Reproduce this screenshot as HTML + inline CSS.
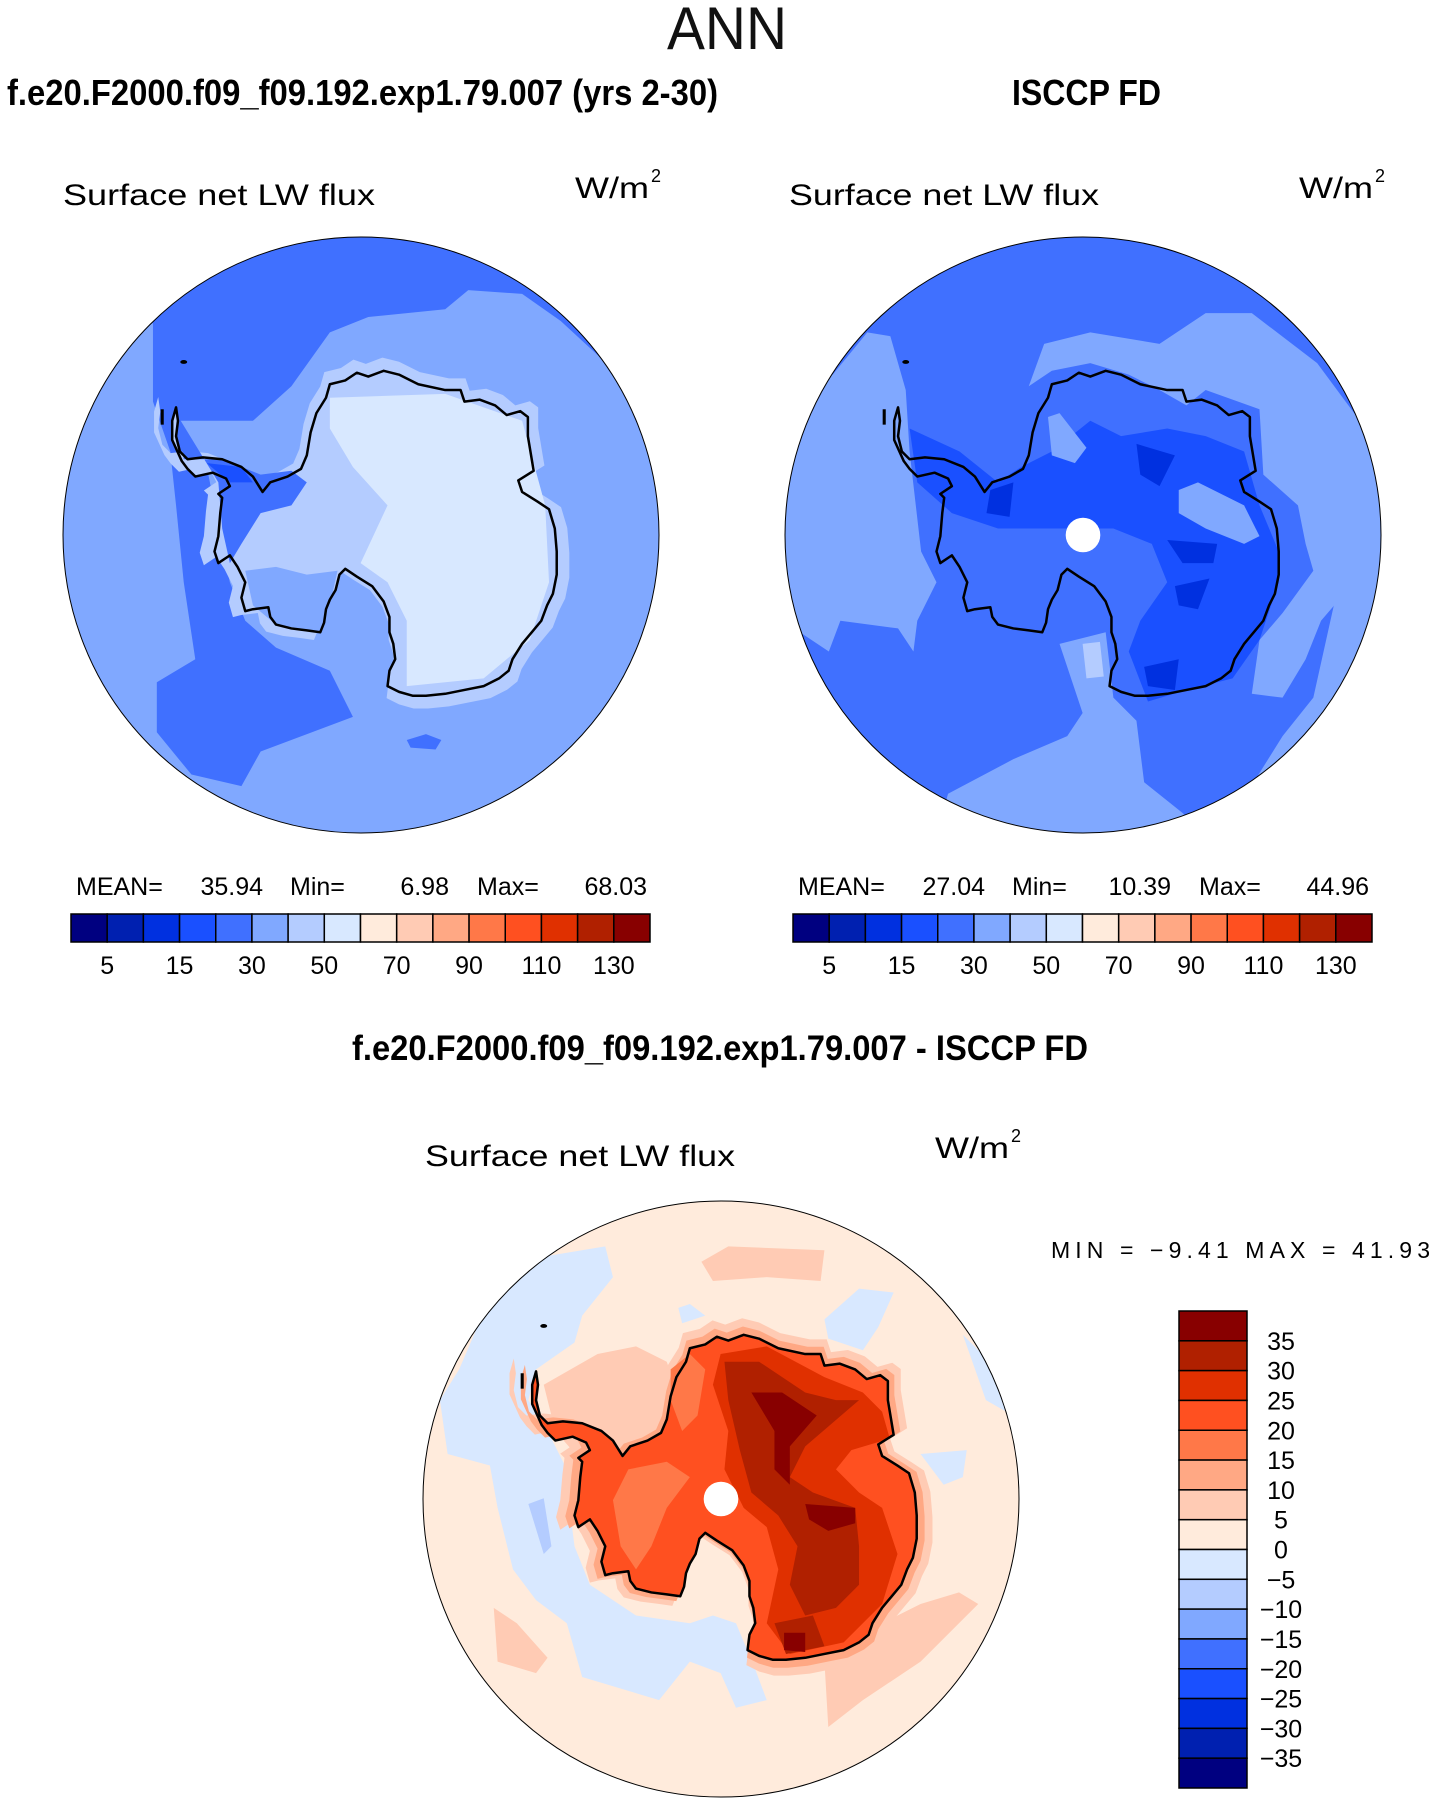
<!DOCTYPE html>
<html><head><meta charset="utf-8"><style>
html,body{margin:0;padding:0;background:#fff;}
svg{display:block;font-family:"Liberation Sans",sans-serif;}
</style></head><body>
<svg id="fig" width="1435" height="1800" viewBox="0 0 1435 1800" xmlns="http://www.w3.org/2000/svg">
<defs><clipPath id="disc"><circle cx="781" cy="777" r="775"/></clipPath></defs>
<text x="667" y="49" font-size="60" textLength="120" lengthAdjust="spacingAndGlyphs" fill="#111">ANN</text>
<text x="7" y="105" font-size="36" font-weight="bold" textLength="711" lengthAdjust="spacingAndGlyphs">f.e20.F2000.f09_f09.192.exp1.79.007 (yrs 2-30)</text>
<text x="1012" y="105" font-size="36" font-weight="bold" textLength="149" lengthAdjust="spacingAndGlyphs">ISCCP FD</text>
<text x="63" y="205" font-size="30" textLength="312" lengthAdjust="spacingAndGlyphs">Surface net LW flux</text>
<text x="575" y="198" font-size="30" textLength="74" lengthAdjust="spacingAndGlyphs">W/m</text><text x="651" y="182" font-size="18">2</text>
<text x="789" y="205" font-size="30" textLength="310" lengthAdjust="spacingAndGlyphs">Surface net LW flux</text>
<text x="1299" y="198" font-size="30" textLength="74" lengthAdjust="spacingAndGlyphs">W/m</text><text x="1375" y="182" font-size="18">2</text>
<text x="352" y="1060" font-size="35" font-weight="bold" textLength="736" lengthAdjust="spacingAndGlyphs">f.e20.F2000.f09_f09.192.exp1.79.007 - ISCCP FD</text>
<text x="425" y="1166" font-size="30" textLength="310" lengthAdjust="spacingAndGlyphs">Surface net LW flux</text>
<text x="935" y="1158" font-size="30" textLength="74" lengthAdjust="spacingAndGlyphs">W/m</text><text x="1011" y="1142" font-size="18">2</text>
<text x="1051" y="1258" font-size="23" textLength="379" lengthAdjust="spacing">MIN  =   −9.41  MAX  =   41.93</text>
</svg>
<script>
const NS="http://www.w3.org/2000/svg";
const svg=document.getElementById('fig');
const colors=["#000080","#0020B0","#0030E0","#1A50FF","#4070FF","#80A8FF","#B4CCFF","#D8E8FF","#FFEBDC","#FFCBB4","#FFA884","#FF7848","#FF5020","#E03000","#B02000","#880000"];
const absTicks=["5","15","30","50","70","90","110","130"];
const diffTicks=["35","30","25","20","15","10","5","0","−5","−10","−15","−20","−25","−30","−35"];
const leftStats=["35.94","6.98","68.03"];
const rightStats=["27.04","10.39","44.96"];

function el(tag,attrs,parent){const e=document.createElementNS(NS,tag);for(const k in attrs)e.setAttribute(k,attrs[k]);(parent||svg).appendChild(e);return e;}
function pts(a){return a.map(p=>p.join(',')).join(' ');}

const coast=[[300,445],[305,480],[300,520],[310,560],[330,580],[370,575],[420,580],[470,600],[500,625],[525,665],[545,640],[590,625],[625,605],[640,570],[650,510],[665,460],[690,420],[700,385],[740,375],[770,355],[800,365],[840,350],[880,360],[930,385],[1000,400],[1040,400],[1050,430],[1090,425],[1130,440],[1160,465],[1195,455],[1215,470],[1215,520],[1225,580],[1230,610],[1190,635],[1200,665],[1240,690],[1270,710],[1285,760],[1290,820],[1290,880],[1280,930],[1265,960],[1250,1000],[1225,1030],[1200,1060],[1175,1100],[1165,1130],[1140,1150],[1100,1170],[1050,1180],[1000,1190],[950,1195],[915,1195],[880,1185],[850,1170],[855,1130],[870,1100],[865,1060],[855,1030],[855,990],[840,950],[810,910],[770,885],[740,865],[725,880],[715,920],[700,945],[690,970],[685,1005],[675,1030],[640,1025],[600,1020],[560,1010],[545,990],[540,965],[500,970],[480,975],[470,940],[480,900],[460,860],[440,830],[410,850],[400,820],[410,780],[415,720],[420,680],[410,670],[440,650],[430,630],[395,615],[350,625],[330,605],[315,585],[290,530],[290,480]];
function scaled(f){return coast.map(p=>[880+(p[0]-880)*f,780+(p[1]-780)*f]);}

const leftRegions=[
 [4,[[240,230],[240,430],[285,560],[300,700],[320,900],[350,1100],[250,1160],[250,1290],[340,1400],[470,1430],[520,1340],[760,1250],[700,1130],[560,1070],[480,1000],[440,900],[400,700],[380,600],[300,480],[500,480],[600,390],[700,250],[800,210],[1000,190],[1060,140],[1200,150],[1300,220],[1430,340],[1560,500],[1560,0],[200,0]]],
 [6,scaled(1.08)],[6,coast],
 [4,[[300,460],[320,580],[420,580],[520,620],[600,610],[640,640],[600,700],[520,720],[470,800],[440,850],[420,760],[410,640]]],
 [3,[[380,590],[470,600],[500,640],[440,640]]],
 [5,[[480,870],[560,860],[640,880],[720,870],[700,960],[680,1030],[560,1010],[500,960]]],
 [7,[[700,420],[1000,410],[1200,480],[1260,700],[1270,900],[1220,1050],[1100,1150],[900,1170],[900,1000],[850,900],[780,850],[850,700],[760,600],[700,500]]],
 [4,[[900,1310],[950,1295],[990,1310],[975,1335],[910,1330]]]
];
const rightRegions=[
 [5,[[0,380],[130,360],[220,250],[280,260],[320,400],[330,560],[360,820],[400,900],[350,1000],[340,1080],[300,1020],[150,1000],[120,1080],[0,1000]]],
 [5,[[640,390],[680,280],[800,250],[980,280],[1100,200],[1220,200],[1390,330],[1560,560],[1560,900],[1460,930],[1400,1000],[1360,1100],[1300,1200],[1220,1190],[1240,1050],[1300,980],[1380,870],[1360,800],[1340,700],[1250,620],[1240,450],[1100,400],[1050,440],[980,400],[900,360],[800,330],[700,350]]],
 [5,[[1560,900],[1440,930],[1380,1200],[1300,1300],[1200,1460],[1300,1560],[1560,1560]]],
 [5,[[430,1450],[600,1360],[740,1300],[780,1240],[720,1060],[840,1030],[860,1200],[920,1260],[940,1420],[1040,1500],[1100,1560],[400,1560]]],
 [6,[[780,1060],[825,1055],[835,1145],[790,1150]]],
 [3,[[330,500],[460,560],[560,640],[620,600],[700,560],[800,480],[880,520],[1000,500],[1100,520],[1200,560],[1240,700],[1290,820],[1290,900],[1240,1050],[1170,1150],[1050,1180],[950,1210],[900,1080],[930,1000],[1000,900],[960,800],[860,760],[700,760],[560,760],[440,720],[350,640]]],
 [5,[[690,470],[720,460],[790,550],[760,590],[700,570]]],
 [5,[[1030,660],[1080,640],[1200,700],[1240,780],[1200,800],[1100,760],[1030,720]]],
 [2,[[920,540],[1020,570],[980,650],[930,620]]],[2,[[1000,790],[1130,800],[1120,850],[1040,850]]],
 [2,[[1020,910],[1110,890],[1080,970],[1030,960]]],[2,[[940,1120],[1030,1100],[1020,1180],[950,1170]]],
 [2,[[540,660],[600,640],[590,730],[530,720]]]
];
const diffRegions=[
 [7,[[160,300],[300,150],[480,120],[500,200],[420,300],[400,370],[300,440],[280,520],[330,600],[380,700],[390,820],[400,900],[440,1000],[560,1080],[700,1100],[760,1080],[820,1100],[870,1220],[900,1300],[820,1320],[780,1230],[700,1200],[620,1300],[420,1240],[380,1100],[300,1040],[240,960],[200,800],[180,690],[70,660],[50,520],[100,440]]],
 [7,[[1050,310],[1140,230],[1230,240],[1190,330],[1150,390],[1060,360]]],
 [7,[[1300,660],[1420,650],[1410,720],[1360,740]]],[7,[[670,280],[700,270],[740,300],[680,320]]],
 [7,[[1410,350],[1460,400],[1540,560],[1470,520]]],[6,[[280,790],[320,775],[340,900],[320,920]]],
 [9,[[730,160],[800,120],[1050,130],[1040,210],[900,200],[760,210]]],
 [9,[[190,1060],[250,1100],[330,1190],[300,1230],[200,1200]]],
 [9,[[1050,1200],[1200,1100],[1300,1050],[1400,1020],[1450,1050],[1300,1200],[1150,1300],[1060,1370]]],
 [9,scaled(1.1)],
 [9,[[320,480],[460,400],[560,380],[640,420],[660,480],[620,600],[540,640],[520,700],[560,800],[500,900],[470,960],[440,900],[430,800],[420,680],[350,600]]],
 [10,scaled(1.05)],[12,coast],
 [11,[[540,700],[640,680],[700,720],[640,800],[600,900],[560,960],[520,900],[500,780]]],
 [11,[[650,440],[700,400],[740,440],[720,560],[680,600],[650,520]]],
 [13,[[780,400],[900,380],[1050,460],[1150,500],[1200,550],[1220,620],[1120,650],[1080,700],[1140,760],[1200,800],[1240,920],[1200,1050],[1100,1150],[960,1180],[900,1100],[930,960],[900,850],[840,800],[790,700],[800,600],[760,480]]],
 [14,[[790,420],[880,420],[1000,500],[1080,520],[1140,520],[1000,640],[960,720],[1020,760],[1130,800],[1140,900],[1140,1000],[1080,1060],[1000,1080],[960,1000],[980,900],[930,820],[860,760],[830,650],[800,520]]],
 [14,[[920,1100],[1020,1080],[1050,1160],[950,1180]]],
 [15,[[860,500],[940,500],[1030,560],[960,640],[960,740],[920,700],[920,600]]],
 [15,[[1000,790],[1130,800],[1130,840],[1060,860],[1010,830]]],[15,[[945,1125],[1000,1125],[1000,1175],[945,1170]]]
];

function drawMap(name,cx,cy,base,regions,hole){
  const s=298/775;
  const g=el('g',{transform:`translate(${cx-781*s},${cy-777*s}) scale(${s})`});
  
  
  const inner=el('g',{'clip-path':'url(#disc)'},g);
  el('rect',{x:0,y:0,width:1560,height:1560,fill:colors[base]},inner);
  regions.forEach(r=>{
    const p=el('polygon',{points:pts(r[1]),fill:colors[r[0]]},inner);
    
    
  });
  const c=el('polygon',{points:pts(coast),fill:'none',stroke:'#000','stroke-width':6.5,'stroke-linejoin':'round'},inner);
  
  
  el('ellipse',{cx:320,cy:327,rx:9,ry:5,fill:'#000'},inner);
  el('rect',{x:260,y:450,width:8,height:40,fill:'#000'},inner);
  if(hole){const h=el('circle',{cx:781,cy:777,r:45,fill:'#fff'},inner);
    
    }
  el('circle',{cx:781,cy:777,r:775,fill:'none',stroke:'#000','stroke-width':2.6},g);
}
drawMap('model-map',361,535,5,leftRegions,false);
drawMap('obs-map',1083,535,4,rightRegions,true);
drawMap('diff-map',721,1499,8,diffRegions,true);

function hBar(name,x0,stats){
  const w=(650-71)/16;
  const g=el('g',{});
  
  
  colors.forEach((c,i)=>{
    const r=el('rect',{x:x0+i*w,y:914,width:w,height:28,fill:c,stroke:'#000','stroke-width':1.5},g);
    
    
  });
  absTicks.forEach((t,i)=>{
    const tx=el('text',{x:x0+(2*i+1)*w,y:974,'font-size':25,'text-anchor':'middle'},g);
    tx.textContent=t;
    
    
  });
  const labs=[["MEAN=",x0+5,'start'],[stats[0],x0+192,'end'],["Min=",x0+219,'start'],[stats[1],x0+378,'end'],["Max=",x0+406,'start'],[stats[2],x0+576,'end']];
  labs.forEach(l=>{
    const tx=el('text',{x:l[1],y:895,'font-size':25,'text-anchor':l[2]},g);
    tx.textContent=l[0];
    
    
  });
}
hBar('model-colorbar',71,leftStats);
hBar('obs-colorbar',793,rightStats);

(function(){
  const y0=1311,y1=1788;
  const h=(y1-y0)/16;
  const g=el('g',{});
  
  
  colors.slice().reverse().forEach((c,i)=>{
    const r=el('rect',{x:1179,y:y0+i*h,width:68,height:h,fill:c,stroke:'#000','stroke-width':1.5},g);
    
    
  });
  diffTicks.forEach((t,i)=>{
    const tx=el('text',{x:1281,y:y0+(i+1)*h+9,'font-size':25,'text-anchor':'middle'},g);
    tx.textContent=t;
    
    
  });
})();
</script>
</body></html>
